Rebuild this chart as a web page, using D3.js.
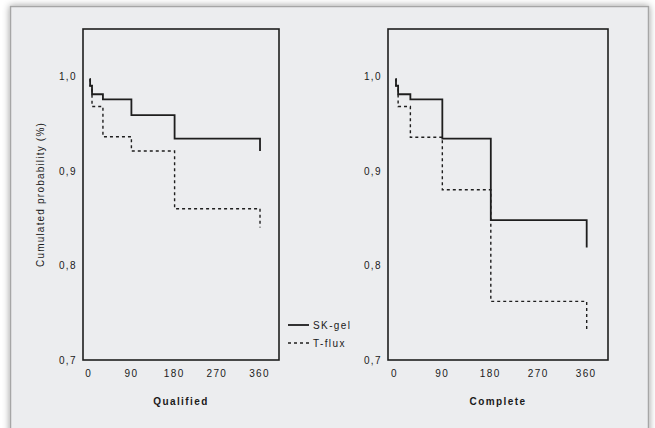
<!DOCTYPE html>
<html>
<head>
<meta charset="utf-8">
<script src="https://cdn.jsdelivr.net/npm/d3@7"></script>
<style>
  body { margin: 0; background: #ffffff; }
  svg { display: block; font-family: "Liberation Sans", Arial, sans-serif; }
  .tick text, .lbl { fill: #1a1a1a; font-size: 10px; letter-spacing: 1.4px; }
</style>
</head>
<body>
<svg width="655" height="428"></svg>
<script>
// event times (days)
const days = [3, 4, 8, 31, 91, 182, 362];

// cumulated probability, Qualified success
const skQualified = [0.997, 0.99, 0.981, 0.9755, 0.959, 0.934, 0.921];
const tfQualified = [0.997, 0.99, 0.968, 0.936, 0.921, 0.860, 0.840];

// cumulated probability, Complete success
const skComplete = [0.997, 0.99, 0.981, 0.9755, 0.934, 0.848, 0.819];
const tfComplete = [0.997, 0.99, 0.968, 0.9355, 0.880, 0.762, 0.730];

const xTicks = [0, 90, 180, 270, 360];
const yTicks = [0.7, 0.8, 0.9, 1.0];
const panelNames = ["Qualified", "Complete"];
const seriesNames = ["SK-gel", "T-flux"];

const svg = d3.select("svg");

// card with soft shadow
const defs = svg.append("defs");
// prettier-ignore
defs.append("filter")
    .attr("id", "shadow")
    .attr("x", "-5%").attr("y", "-5%")
    .attr("width", "110%").attr("height", "110%")
  .append("feDropShadow")
    .attr("dx", 0).attr("dy", 0)
    .attr("stdDeviation", 3.5)
    .attr("flood-color", "#000")
    .attr("flood-opacity", 0.4)

// prettier-ignore
svg.append("rect")
    .attr("x", 10.5).attr("y", 6.5)
    .attr("width", 638).attr("height", 440)
    .attr("fill", "#ecedef")
    .attr("stroke", "#a6a6a6")
    .attr("stroke-width", 1.5)
    .attr("filter", "url(#shadow)")

const yScale = d3.scaleLinear().domain([0.7, 1.05]).range([360, 29]);

const line = (x) =>
  d3.line()
    .x((d) => x(d[0]))
    .y((d) => yScale(d[1]))
    .curve(d3.curveStepAfter);

const drawPanel = (left, right, name, sk, tf) => {
  const x = d3.scaleLinear().domain([-11, 402]).range([left, right]);
  const g = svg.append("g");

  // prettier-ignore
  g.append("rect")
      .attr("x", left).attr("y", yScale(1.05))
      .attr("width", right - left)
      .attr("height", yScale(0.7) - yScale(1.05))
      .attr("fill", "none")
      .attr("stroke", "#1e1e1e")
      .attr("stroke-width", 1.6)

  // prettier-ignore
  const yAxis = g.append("g")
      .attr("transform", `translate(${left - 3}, 0)`)
      .call(d3.axisLeft(yScale).tickValues(yTicks).tickSize(0)
        .tickFormat((d) => d3.format(".1f")(d).replace(".", ",")))
  yAxis.select(".domain").remove();
  yAxis.selectAll("text").attr("dy", "0.32em");

  // prettier-ignore
  const xAxis = g.append("g")
      .attr("transform", "translate(0, 360)")
      .call(d3.axisBottom(x).tickValues(xTicks).tickSize(0).tickPadding(10))
  xAxis.select(".domain").remove();

  // prettier-ignore
  g.append("text")
      .attr("class", "lbl")
      .attr("x", (left + right) / 2)
      .attr("y", 405)
      .attr("text-anchor", "middle")
      .attr("font-weight", "bold")
      .text(name)

  // prettier-ignore
  g.append("path")
      .datum(d3.zip(days, tf))
      .attr("d", line(x))
      .attr("fill", "none")
      .attr("stroke", "#1e1e1e")
      .attr("stroke-width", 1.4)
      .attr("stroke-dasharray", "3,3")

  // prettier-ignore
  g.append("path")
      .datum(d3.zip(days, sk))
      .attr("d", line(x))
      .attr("fill", "none")
      .attr("stroke", "#1e1e1e")
      .attr("stroke-width", 1.8)
};

drawPanel(83, 279, panelNames[0], skQualified, tfQualified);
drawPanel(388, 608, panelNames[1], skComplete, tfComplete);

// y axis title
// prettier-ignore
svg.append("text")
    .attr("class", "lbl")
    .attr("transform", `translate(44, ${yScale(0.875)}) rotate(-90)`)
    .attr("text-anchor", "middle")
    .style("letter-spacing", "1.2px")
    .text("Cumulated probability (%)")

// legend
const legend = svg.append("g").attr("transform", "translate(288, 325)");
seriesNames.forEach((s, i) => {
  // prettier-ignore
  legend.append("line")
      .attr("x1", 0).attr("x2", 21)
      .attr("y1", i * 18).attr("y2", i * 18)
      .attr("stroke", "#1e1e1e")
      .attr("stroke-width", i === 0 ? 1.8 : 1.4)
      .attr("stroke-dasharray", i === 0 ? null : "3,3")
  // prettier-ignore
  legend.append("text")
      .attr("class", "lbl")
      .attr("x", 25).attr("y", i * 18)
      .attr("dy", "0.35em")
      .text(s)
});
</script>
</body>
</html>
